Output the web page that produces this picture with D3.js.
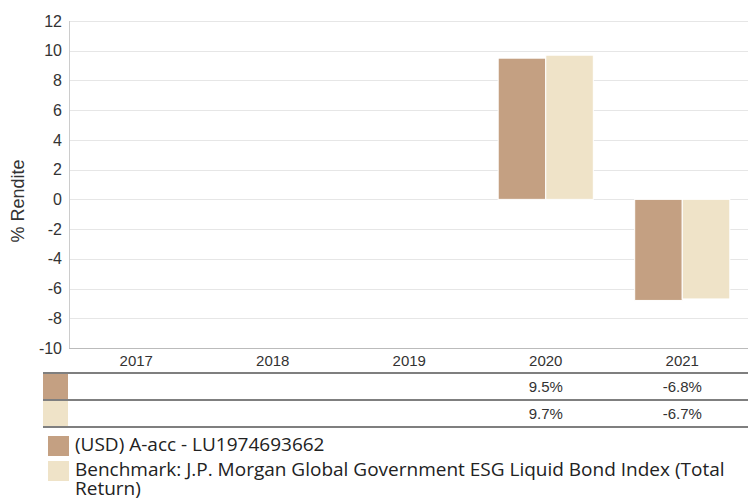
<!DOCTYPE html>
<html>
<head>
<meta charset="utf-8">
<script src="https://cdn.jsdelivr.net/npm/d3@7"></script>
<style>
  body { margin: 0; background: #fff; }
  svg { display: block; }
  .tick text { font-family: "Liberation Sans", Arial, sans-serif; }
</style>
</head>
<body>
<svg id="chart"></svg>
<script>
// data
var years = ["2017", "2018", "2019", "2020", "2021"];
var fundValues = [null, null, null, 9.5, -6.8];
var benchValues = [null, null, null, 9.7, -6.7];
var seriesNames = ["(USD) A-acc - LU1974693662",
  "Benchmark: J.P. Morgan Global Government ESG Liquid Bond Index (Total Return)"];
var seriesColors = ["#c4a082", "#efe3c8"];
var yTicks = [-10, -8, -6, -4, -2, 0, 2, 4, 6, 8, 10, 12];

var width = 748, height = 502;
var margin = { top: 21, left: 69 };
var plotH = 327;

var svg = d3.select("#chart").attr("width", width).attr("height", height);

var x = d3.scaleBand().domain(years).range([68, 750.5]);
var y = d3.scaleLinear().domain([-10, 12]).range([margin.top + plotH, margin.top]);
var inner = d3.scaleBand().domain([0, 1]).range([0, x.bandwidth()]).paddingOuter(0.435).paddingInner(0);

/* grid */
svg.append("g").selectAll("line").data(yTicks).join("line")
  .attr("x1", margin.left).attr("x2", width)
  .attr("y1", function (d) { return Math.round(y(d)) + 0.5; })
  .attr("y2", function (d) { return Math.round(y(d)) + 0.5; })
  .attr("stroke", "#e6e6e6");

/* y axis */
var yAxis = d3.axisLeft(y).tickValues(yTicks).tickSize(0).tickPadding(7)
  .tickFormat(function (d) { return String(d); });
var yG = svg.append("g").attr("transform", "translate(" + margin.left + ",0)").call(yAxis);
yG.select(".domain").remove();
yG.selectAll("text").style("font-size", "16px").attr("fill", "#333");
svg.append("line").attr("x1", margin.left + 0.5).attr("x2", margin.left + 0.5)
  .attr("y1", margin.top).attr("y2", y(-10)).attr("stroke", "#cccccc");
svg.append("line").attr("x1", margin.left).attr("x2", width)
  .attr("y1", Math.round(y(-10)) + 0.5).attr("y2", Math.round(y(-10)) + 0.5).attr("stroke", "#bbbbbb");

svg.append("text")
  .attr("transform", "translate(24,201) rotate(-90)")
  .attr("text-anchor", "middle")
  .style("font-family", "'Liberation Sans', Arial, sans-serif")
  .style("font-size", "18px").attr("fill", "#333")
  .text("% Rendite");

/* bars */
var series = [fundValues, benchValues];
series.forEach(function (vals, si) {
  svg.append("g").selectAll("rect")
    .data(years.map(function (yr, i) { return { year: yr, v: vals[i] }; })
      .filter(function (d) { return d.v !== null; }))
    .join("rect")
    .attr("x", function (d) { return x(d.year) + inner(si); })
    .attr("width", inner.bandwidth())
    .attr("y", function (d) { return y(Math.max(0, d.v)); })
    .attr("height", function (d) { return Math.abs(y(d.v) - y(0)); })
    .attr("fill", seriesColors[si])
    .attr("stroke", "#fff").attr("stroke-width", 1);
});

/* x axis labels */
var xAxis = d3.axisBottom(x).tickSize(0).tickPadding(7);
var xG = svg.append("g").attr("transform", "translate(0," + y(-10) + ")").call(xAxis);
xG.select(".domain").remove();
xG.selectAll("text").style("font-size", "15px").attr("fill", "#333");

/* data table */
var rowTop = 373, rowH = 27;
svg.append("g").selectAll("line").data([0, 1, 2]).join("line")
  .attr("x1", 43).attr("x2", width)
  .attr("y1", function (d) { return rowTop + d * rowH; })
  .attr("y2", function (d) { return rowTop + d * rowH; })
  .attr("stroke", "#555").attr("stroke-width", 1.5);

series.forEach(function (vals, si) {
  var top = rowTop + si * rowH;
  svg.append("rect").attr("x", 43).attr("y", top + 1).attr("width", 25).attr("height", rowH - 2)
    .attr("fill", seriesColors[si]);
  svg.append("g").selectAll("text")
    .data(years.map(function (yr, i) { return { year: yr, v: vals[i] }; })
      .filter(function (d) { return d.v !== null; }))
    .join("text")
    .attr("x", function (d) { return x(d.year) + x.bandwidth() / 2; })
    .attr("y", top + 19)
    .attr("text-anchor", "middle")
    .style("font-family", "'Liberation Sans', Arial, sans-serif")
    .style("font-size", "15px").attr("fill", "#333")
    .text(function (d) { return d.v.toFixed(1) + "%"; });
});

/* legend */
var legendFont = "'Open Sans', sans-serif", legendSize = "19px";
var legendLines = [[seriesNames[0]], wrapWords(seriesNames[1], 673)];
var legendTops = [436, 461];
legendLines.forEach(function (lines, si) {
  var ly = legendTops[si];
  svg.append("rect").attr("x", 48).attr("y", ly).attr("width", 21).attr("height", 20)
    .attr("fill", seriesColors[si]);
  lines.forEach(function (ln, li) {
    svg.append("text")
      .attr("x", 75).attr("y", ly + 15 + li * 19)
      .style("font-family", legendFont)
      .style("font-size", legendSize).attr("fill", "#222")
      .text(ln);
  });
});

function wrapWords(str, maxW) {
  var probe = svg.append("text").style("font-family", legendFont).style("font-size", legendSize);
  var words = str.split(" "), lines = [], cur = "";
  words.forEach(function (w) {
    var test = cur ? cur + " " + w : w;
    probe.text(test);
    if (probe.node().getComputedTextLength() > maxW && cur) { lines.push(cur); cur = w; }
    else cur = test;
  });
  lines.push(cur);
  probe.remove();
  return lines;
}
</script>
</body>
</html>
